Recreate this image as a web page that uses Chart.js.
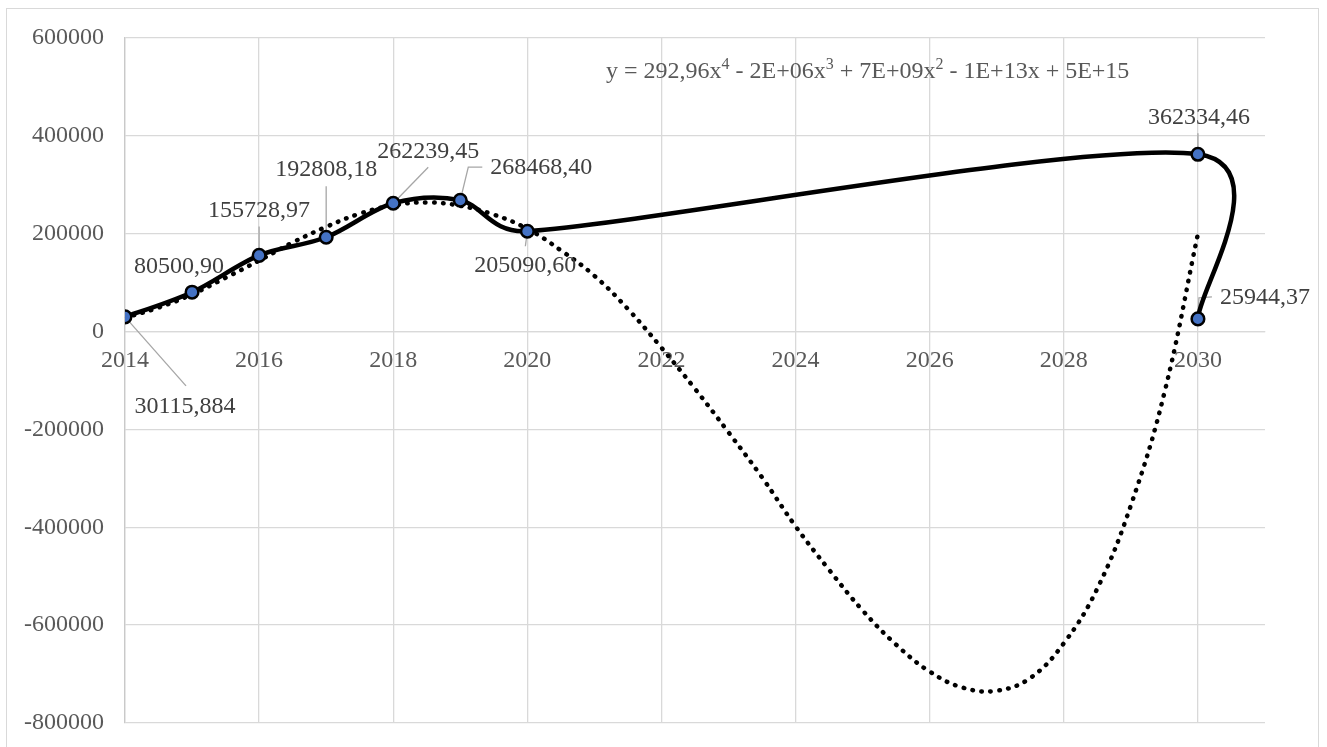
<!DOCTYPE html>
<html lang="fr">
<head>
<meta charset="UTF-8">
<title>Courbe et tendance polynomiale</title>
<style>
    body { margin: 0; background: #fff; }
    #wrap { position: relative; width: 1327px; height: 747px; overflow: hidden; }
    #frame { position: absolute; left: 6px; top: 8px; width: 1313px; height: 760px; border: 1.5px solid #d9d9d9; box-sizing: border-box; }
    #chart { position: absolute; left: 0; top: 0; }
</style>
</head>
<body>
<div id="wrap">
    <div id="frame"></div>
    <canvas id="chart" width="1327" height="747"></canvas>
</div>

<script src="https://cdn.jsdelivr.net/npm/chart.js"></script>
<script>
    // series
    const years = [2014, 2015, 2016, 2017, 2018, 2019, 2020, 2030, 2030];
    const values = [30115.884, 80500.90, 155728.97, 192808.18, 262239.45, 268468.40, 205090.60, 362334.46, 25944.37];
    const valueLabels = ['30115,884', '80500,90', '155728,97', '192808,18', '262239,45', '268468,40', '205090,60', '362334,46', '25944,37'];

    // polynomial trend line
    const trendYears = [2014, 2014.5, 2015, 2015.5, 2016, 2016.5, 2017, 2017.5, 2018, 2018.5, 2019, 2019.5,
        2020, 2020.5, 2021, 2021.5, 2022, 2022.5, 2023, 2023.5, 2024, 2024.5, 2025, 2025.5,
        2026, 2026.5, 2027, 2027.5, 2028, 2028.5, 2029, 2029.5, 2030];
    const trendValues = [28000, 49000, 76000, 110000, 145000, 182000, 214000, 241000, 258000, 264000, 257000, 239000,
        210000, 166000, 114000, 46000, -33000, -117000, -206000, -298000, -398000, -487000, -570000, -640000,
        -695000, -728000, -734000, -708000, -637000, -525000, -355000, -125000, 200000];
    const trendEquation = ['y = 292,96x', '4', ' - 2E+06x', '3', ' + 7E+09x', '2', ' - 1E+13x + 5E+15'];

    // axes
    const xTicks = [2014, 2016, 2018, 2020, 2022, 2024, 2026, 2028, 2030];
    const yTicks = [-800000, -600000, -400000, -200000, 0, 200000, 400000, 600000];

    const FONT = "'Liberation Serif', 'Times New Roman', serif";
    const GRID = '#d9d9d9';
    const TEXT = '#595959';

    const points = years.map((x, i) => ({x: x, y: values[i]}));
    const trend = trendYears.map((x, i) => ({x: x, y: trendValues[i]}));

    // label placement: [dx, dy] of text centre from the point, then leader path
    const labelPlacement = [
        {at: [60, 89], leader: [[0, 0], [61, 69]]},
        {at: [-13, -26], leader: null},
        {at: [0, -46], leader: [[0, -29], [0, 0]]},
        {at: [0, -69], leader: [[0, -51], [0, 0]]},
        {at: [35, -53], leader: [[35, -36], [0, 0]]},
        {at: [81, -34], leader: [[0, 0], [8, -33], [22, -33]]},
        {at: [-2, 33], leader: [[0, 0], [-2, 15]]},
        {at: [1, -38], leader: [[0, -21], [0, 0]]},
        {at: [67, -22], leader: [[0, 0], [1, -21], [14, -22]]}
    ];

    // Excel style smoothing: replace the control points of lines flagged excelSmooth
    const excelSmooth = {
        id: 'excelSmooth',
        beforeDatasetDraw(chart, args) {
            if (!chart.data.datasets[args.index].excelSmooth) return;
            const meta = args.meta;
            const line = meta.dataset;
            line.updateControlPoints(chart.chartArea, meta.iScale.axis);
            const pts = line.points;
            const n = pts.length;
            const dist = (a, b) => Math.hypot(b.x - a.x, b.y - a.y);
            for (let i = 0; i < n - 1; i++) {
                const p0 = pts[Math.max(i - 1, 0)], p1 = pts[i], p2 = pts[i + 1], p3 = pts[Math.min(i + 2, n - 1)];
                const d12 = dist(p1, p2), d02 = dist(p0, p2), d13 = dist(p1, p3);
                const f1 = (d02 === 0 || d02 / 6 < d12 / 2) ? 1 / 6 : d12 / (2 * d02);
                const f2 = (d13 === 0 || d13 / 6 < d12 / 2) ? 1 / 6 : d12 / (2 * d13);
                p1.cp2x = p1.x + f1 * (p2.x - p0.x);
                p1.cp2y = p1.y + f1 * (p2.y - p0.y);
                p2.cp1x = p2.x - f2 * (p3.x - p1.x);
                p2.cp1y = p2.y - f2 * (p3.y - p1.y);
            }
        }
    };

    const labelPlugin = {
        id: 'valueLabels',
        beforeDatasetsDraw(chart) {
            const ctx = chart.ctx;
            const xs = chart.scales.x, ys = chart.scales.y;
            ctx.save();
            ctx.strokeStyle = '#a6a6a6';
            ctx.lineWidth = 1.3;
            points.forEach((p, i) => {
                const lp = labelPlacement[i];
                if (!lp.leader) return;
                const px = xs.getPixelForValue(p.x), py = ys.getPixelForValue(p.y);
                ctx.beginPath();
                lp.leader.forEach((d, k) => {
                    if (k === 0) ctx.moveTo(px + d[0], py + d[1]);
                    else ctx.lineTo(px + d[0], py + d[1]);
                });
                ctx.stroke();
            });
            ctx.restore();
        },
        afterDatasetsDraw(chart) {
            const ctx = chart.ctx;
            const xs = chart.scales.x, ys = chart.scales.y;
            ctx.save();
            ctx.font = '24px ' + FONT;
            ctx.fillStyle = '#404040';
            ctx.textAlign = 'center';
            ctx.textBaseline = 'middle';
            points.forEach((p, i) => {
                const lp = labelPlacement[i];
                const px = xs.getPixelForValue(p.x), py = ys.getPixelForValue(p.y);
                ctx.fillText(valueLabels[i], px + lp.at[0], py + lp.at[1] + 1);
            });

            // trend equation with superscripts
            const area = chart.chartArea;
            let x = area.left + 481;
            const base = area.top + 40;
            ctx.fillStyle = TEXT;
            ctx.textAlign = 'left';
            ctx.textBaseline = 'alphabetic';
            trendEquation.forEach((part, k) => {
                const sup = k % 2 === 1;
                ctx.font = (sup ? '16px ' : '24px ') + FONT;
                ctx.fillText(part, x, sup ? base - 9.5 : base);
                x += ctx.measureText(part).width;
            });
            ctx.restore();
        }
    };

    new Chart(document.getElementById('chart'), {
        type: 'scatter',
        data: {
            datasets: [
                {
                    data: points,
                    showLine: false,
                    pointRadius: 6.3,
                    pointBorderWidth: 2.5,
                    pointBackgroundColor: '#4472c4',
                    pointBorderColor: '#000',
                    order: 0
                },
                {
                    data: trend,
                    showLine: true,
                    tension: 0.4,
                    borderColor: '#000',
                    borderWidth: 4.5,
                    borderDash: [0.5, 8.5],
                    borderCapStyle: 'round',
                    pointRadius: 0,
                    order: 1
                },
                {
                    data: points,
                    showLine: true,
                    excelSmooth: true,
                    tension: 0.5,
                    borderColor: '#000',
                    borderWidth: 4.5,
                    borderCapStyle: 'round',
                    borderJoinStyle: 'round',
                    pointRadius: 0,
                    order: 2
                }
            ]
        },
        options: {
            responsive: false,
            animation: false,
            devicePixelRatio: 1,
            layout: {padding: {left: 0, top: 38, right: 62, bottom: 24}},
            plugins: {legend: {display: false}, tooltip: {enabled: false}},
            scales: {
                x: {
                    type: 'linear',
                    position: {y: 0},
                    min: 2014,
                    max: 2031,
                    afterBuildTicks: s => { s.ticks = xTicks.map(v => ({value: v})); },
                    grid: {color: GRID, lineWidth: 1.3, drawTicks: false},
                    border: {color: GRID, width: 1.3},
                    ticks: {
                        color: TEXT,
                        font: {family: FONT, size: 24},
                        padding: 15,
                        maxRotation: 0,
                        autoSkip: false,
                        callback: v => String(v)
                    }
                },
                y: {
                    type: 'linear',
                    min: -800000,
                    max: 600000,
                    afterBuildTicks: s => { s.ticks = yTicks.map(v => ({value: v})); },
                    afterFit: s => { s.width = 125; },
                    grid: {color: GRID, lineWidth: 1.3, drawTicks: true, tickLength: 17, tickColor: 'rgba(0,0,0,0)'},
                    border: {color: '#c9c9c9', width: 1.3},
                    ticks: {
                        color: TEXT,
                        font: {family: FONT, size: 24},
                        padding: 4,
                        callback: v => String(v)
                    }
                }
            }
        },
        plugins: [excelSmooth, labelPlugin]
    });
</script>
</body>
</html>
